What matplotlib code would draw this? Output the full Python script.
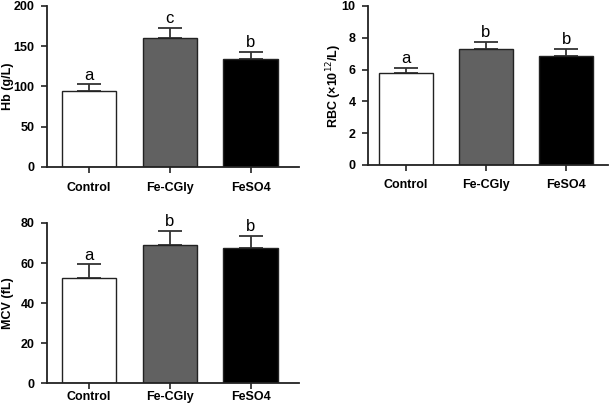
import matplotlib
matplotlib.use("Agg")
import matplotlib.pyplot as plt

groups = ["Control", "Fe-CGly", "FeSO4"]
colors = ["#ffffff", "#616161", "#000000"]

hb_mean = [95, 160.5, 134.5]
hb_err = [7.5, 12.5, 8.5]
hb_letters = ["a", "c", "b"]

rbc_mean = [5.77, 7.31, 6.87]
rbc_err = [0.35, 0.44, 0.43]
rbc_letters = ["a", "b", "b"]

mcv_mean = [52.4, 69.0, 67.4]
mcv_err = [7.0, 7.0, 6.1]
mcv_letters = ["a", "b", "b"]

plt.rcParams['font.family'] = ['Liberation Sans', 'DejaVu Sans']

W, H = 609, 404
fig = plt.figure(figsize=(W / 100, H / 100), dpi=100)

def ax_at(l, t, r, b):
    return fig.add_axes([l / W, 1 - b / H, (r - l) / W, (b - t) / H])

# (axes, mean, err, letters, ylabel, ymax, step, xlim, left px, width px, label x px, xtick pad)
panels = [
    (ax_at(47, 6, 299, 167), hb_mean, hb_err, hb_letters, "Hb (g/L)", 200, 50, (-0.52, 2.60), 47, 252, 8, 7),
    (ax_at(368, 6, 608, 165), rbc_mean, rbc_err, rbc_letters, "RBC (\u00d710$^{12}$/L)", 10, 2, (-0.47, 2.52), 368, 240, 334, 6),
    (ax_at(47, 223, 299, 383), mcv_mean, mcv_err, mcv_letters, "MCV (fL)", 80, 20, (-0.52, 2.60), 47, 252, 8, 2),
]

for ax, mean, err, letters, ylabel, ymax, step, xlim, lpx, wpx, labx, xpad in panels:
    x = list(range(len(groups)))
    ax.bar(x, mean, width=0.67, color=colors, edgecolor="#222222", linewidth=1.0, zorder=2)
    ax.errorbar(x, mean, yerr=[[0] * len(err), err], fmt="none", ecolor="#333333",
                elinewidth=1.3, capsize=8.6, capthick=1.3, zorder=1)
    for xi, m, e, lt in zip(x, mean, err, letters):
        ax.text(xi, m + e + ymax * 0.01, lt, ha="center", va="bottom", fontsize=12)
    ax.set_xlim(*xlim)
    ax.set_ylim(0, ymax)
    ax.set_yticks(list(range(0, ymax + 1, step)))
    ax.set_xticks(x)
    ax.set_xticklabels(groups, fontweight="bold", fontsize=9)
    for lab in ax.get_yticklabels():
        lab.set_fontweight("bold")
        lab.set_fontsize(9)
    ax.set_ylabel(ylabel, fontweight="bold", fontsize=9)
    ax.yaxis.set_label_coords((labx - lpx) / wpx, 0.5)
    ax.yaxis.label.set_va("center")
    for s in ["top", "right"]:
        ax.spines[s].set_visible(False)
    for s in ["left", "bottom"]:
        ax.spines[s].set_linewidth(1.3)
        ax.spines[s].set_color("#222222")
    ax.tick_params(axis="both", direction="out", length=4, width=1.2, color="#222222")
    ax.tick_params(axis="y", pad=5)
    ax.tick_params(axis="x", pad=xpad)
    ax.set_facecolor("white")

fig.savefig("out.png", dpi=100, facecolor="white")
